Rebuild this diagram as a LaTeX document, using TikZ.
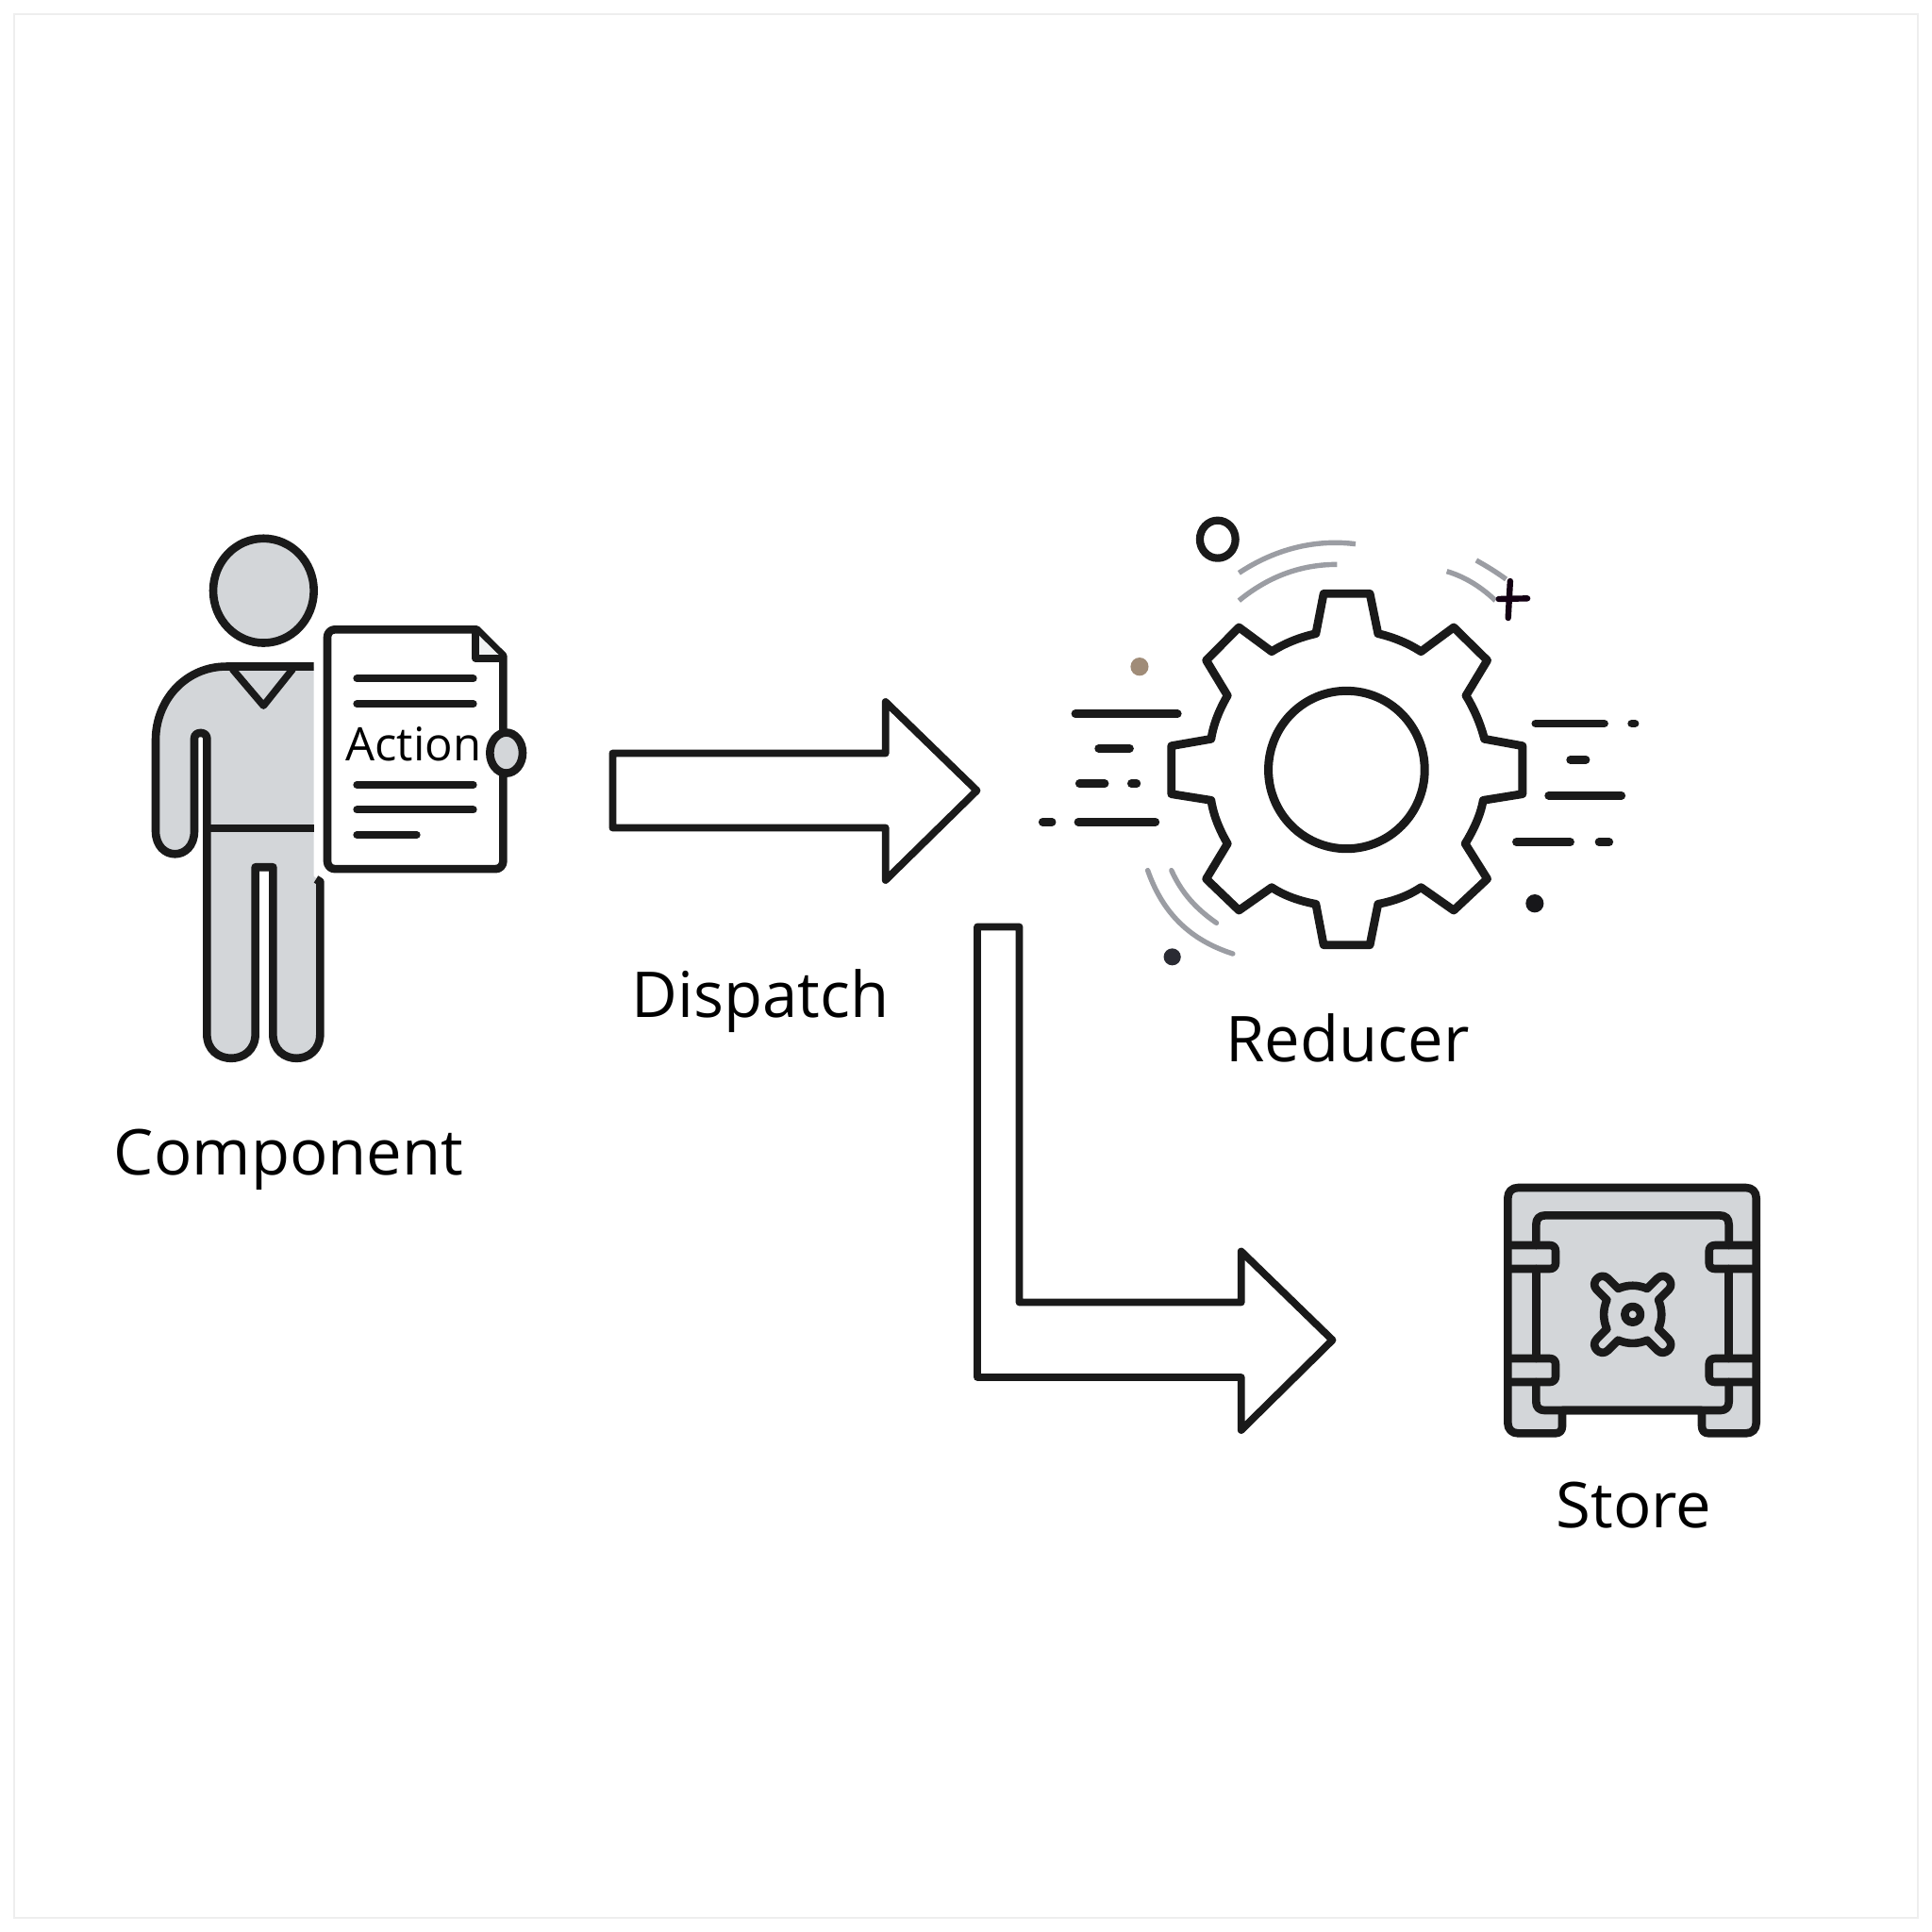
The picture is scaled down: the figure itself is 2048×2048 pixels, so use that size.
\documentclass[tikz,border=0pt]{standalone}
\usepackage{fontspec}
\usetikzlibrary{calc}
\setmainfont{Open Sans}
\definecolor{ink}{HTML}{1A1A1A}
\definecolor{bodygray}{HTML}{D3D6D9}
\definecolor{arcgray}{HTML}{9B9DA3}
\definecolor{framegray}{HTML}{EEEEEE}
\tikzset{
  inkline/.style={draw=ink,line width=4.3pt,line join=round,line cap=round},
  blockarrow/.style={draw=ink,line width=3.9pt,line join=round,fill=white},
  textrule/.style={draw=ink,line width=4pt,line cap=round},
  dashrule/.style={draw=ink,line width=4.3pt,line cap=round},
  swoosh/.style={draw=arcgray,line width=2.7pt},
  caption/.style={font=\fontsize{33.5}{40}\selectfont,text=black,inner sep=0pt,anchor=base},
  personzoom/.style={shift={(140,550)},x=0.16667pt,y=-0.19231pt},
  gearzoom/.style={shift={(1090,530)},x=0.21683pt,y=-0.16667pt},
  safezoom/.style={shift={(1580,1240)},x=0.16667pt,y=-0.16667pt},
}
\begin{document}
\begin{tikzpicture}[x=0.5pt,y=-0.5pt]
\useasboundingbox (0,0) rectangle (2048,2048);
\fill[white] (0,0) rectangle (2048,2048);
\draw[framegray,line width=1.3pt] (15,15) rectangle (2033,2033);

% ---------- Person with the Action document
\begin{scope}[personzoom]
  \fill[bodygray] (578,407) -- (300,407) .. controls (170,407) and (75,500) .. (75,610)
    -- (75,860) .. controls (75,945) and (198,945) .. (198,860) -- (198,605)
    .. controls (198,585) and (238,585) .. (238,605) -- (238,1420)
    .. controls (238,1509) and (392,1509) .. (392,1420) -- (392,960) -- (448,960) -- (448,1420)
    .. controls (448,1509) and (598,1509) .. (598,1420) -- (598,1000) -- (578,985) -- cycle;
  \draw[inkline,line cap=butt] (578,407) -- (300,407) .. controls (170,407) and (75,500) .. (75,610)
    -- (75,860) .. controls (75,945) and (198,945) .. (198,860) -- (198,605)
    .. controls (198,585) and (238,585) .. (238,605) -- (238,1420)
    .. controls (238,1509) and (392,1509) .. (392,1420) -- (392,960) -- (448,960) -- (448,1420)
    .. controls (448,1509) and (598,1509) .. (598,1420) -- (598,1000) -- (585,993);
  \draw[inkline,line cap=butt] (238,853) -- (578,853);
  \draw[inkline,line width=3.8pt] (320,415) -- (418,515) -- (510,415);
  \draw[inkline,fill=bodygray] (418,198) ellipse [x radius=160,y radius=144];
  % document
  \draw[inkline,fill=white,rounded corners=4pt] (700,305) -- (621,305) -- (621,965) -- (1180,965) -- (1180,600)
    [sharp corners] -- (1180,378) -- (1095,305) -- cycle;
  \draw[inkline,line width=3.6pt,fill=bodygray!35] (1092,312) -- (1092,385) -- (1178,385);
  \foreach \yy/\xe in {440/1085,510/1085,733/1085,802/1085,871/905}
    \draw[textrule] (715,\yy) -- (\xe,\yy);
  \node[font=\fontsize{24.5}{29}\selectfont,text=black,inner sep=0pt,anchor=base] (actiontext) at (895,667) {Action};
  \draw[inkline,fill=bodygray] (1190,645) ellipse [x radius=52,y radius=56];
\end{scope}

% ---------- Block arrows
\coordinate (dispatchTail) at (649.4,838);
\coordinate (dispatchHead) at (938.7,838);
\coordinate (dispatchTip) at (1035.5,838);
\draw[blockarrow] ($(dispatchTail)+(0,-39.5)$) -- ($(dispatchHead)+(0,-39.5)$) -- ($(dispatchHead)+(0,-94)$)
  -- (dispatchTip) -- ($(dispatchHead)+(0,95)$) -- ($(dispatchHead)+(0,39.5)$) -- ($(dispatchTail)+(0,39.5)$) -- cycle;

\coordinate (storeTail) at (1058,982.5);
\coordinate (storeBend) at (1058,1420.5);
\coordinate (storeHead) at (1315.7,1420.5);
\coordinate (storeTip) at (1412.5,1420.5);
\draw[blockarrow] ($(storeTail)+(-22,0)$) -- ($(storeTail)+(22.5,0)$) -- ($(storeBend)+(22.5,-40)$)
  -- ($(storeHead)+(0,-40)$) -- ($(storeHead)+(0,-94)$) -- (storeTip) -- ($(storeHead)+(0,95.5)$)
  -- ($(storeHead)+(0,39.5)$) -- ($(storeBend)+(-22,39.5)$) -- cycle;

% ---------- Gear
\begin{scope}[gearzoom]
  \draw[inkline,line width=4.4pt] (722,298) -- (835,298) -- (855,425)
    .. controls (895,437) and (930,457) .. (960,482) -- (1040,405) -- (1122,510) -- (1070,622)
    .. controls (1090,665) and (1105,710) .. (1115,760) -- (1208,782) -- (1208,935) -- (1112,955)
    .. controls (1105,1005) and (1088,1050) .. (1068,1093) -- (1122,1205) -- (1040,1305) -- (960,1232)
    .. controls (930,1258) and (895,1275) .. (855,1285) -- (835,1415) -- (722,1415) -- (703,1285)
    .. controls (662,1275) and (625,1258) .. (595,1232) -- (515,1305) -- (435,1205) -- (487,1093)
    .. controls (468,1050) and (453,1005) .. (447,955) -- (350,935) -- (350,782) -- (447,760)
    .. controls (453,710) and (468,665) .. (487,622) -- (435,510) -- (515,405) -- (595,482)
    .. controls (625,457) and (662,437) .. (703,425) -- cycle;
  \draw[inkline,line width=4.5pt] (778,858) ellipse [x radius=191,y radius=251];
  \draw[inkline,line width=4.1pt] (463,125) ellipse [x radius=43.5,y radius=60];
  \draw[swoosh] (515,232) .. controls (610,150) and (710,125) .. (800,140);
  \draw[swoosh] (515,320) .. controls (590,240) and (670,205) .. (755,205);
  \draw[swoosh] (1023,227) .. controls (1070,245) and (1110,280) .. (1142,320);
  \draw[swoosh] (1095,192) .. controls (1120,210) and (1145,230) .. (1168,252);
  \draw[swoosh,line cap=round] (292,1178) .. controls (325,1300) and (385,1395) .. (500,1443);
  \draw[swoosh,line cap=round] (350,1178) .. controls (375,1250) and (410,1300) .. (460,1345);
  \draw[draw=black!85!violet,line width=3.2pt,line cap=round] (1178,258) -- (1173,375);
  \draw[draw=black!85!violet,line width=3.2pt,line cap=round] (1150,315) -- (1220,313);
  \fill[fill={rgb,255:red,160;green,140;blue,120}] (272,530) ellipse [x radius=22,y radius=29];
  \fill[fill={rgb,255:red,42;green,43;blue,51}] (352,1453) ellipse [x radius=21,y radius=27];
  \fill[fill={rgb,255:red,23;green,23;blue,26}] (1238,1283) ellipse [x radius=22,y radius=29];
  \foreach \xa/\xb/\yy in {115/365/680,172/248/790,125/187/902,252/265/902,35/58/1024,122/311/1024,
      1240/1408/711,1475/1483/711,1325/1363/826,1272/1450/940,1193/1325/1088,1395/1420/1088}
    \draw[dashrule] (\xa,\yy) -- (\xb,\yy);
\end{scope}

% ---------- Safe
\begin{scope}[safezoom]
  \draw[inkline,fill=bodygray] (55,90) .. controls (55,70) and (68,57) .. (88,57) -- (812,57)
    .. controls (832,57) and (845,70) .. (845,90) -- (845,805) .. controls (845,825) and (832,838) .. (812,838)
    -- (695,838) .. controls (680,838) and (672,830) .. (672,815) -- (672,765) -- (228,765) -- (228,815)
    .. controls (228,830) and (220,838) .. (205,838) -- (88,838) .. controls (68,838) and (55,825) .. (55,805) -- cycle;
  \draw[inkline] (145,240) -- (145,175) .. controls (145,155) and (155,145) .. (175,145) -- (728,145)
    .. controls (748,145) and (758,155) .. (758,175) -- (758,240);
  \draw[inkline] (145,315) -- (145,600);
  \draw[inkline] (758,315) -- (758,600);
  \draw[inkline] (145,675) -- (145,738) .. controls (145,755) and (155,765) .. (172,765) -- (731,765)
    .. controls (748,765) and (758,755) .. (758,738) -- (758,675);
  \foreach \ya/\yb in {240/315,600/675} {
    \draw[inkline] (55,\ya) -- (188,\ya) .. controls (200,\ya) and (207,\ya+7) .. (207,\ya+19) -- (207,\yb-19)
      .. controls (207,\yb-7) and (200,\yb) .. (188,\yb) -- (55,\yb);
    \draw[inkline] (845,\ya) -- (714,\ya) .. controls (702,\ya) and (695,\ya+7) .. (695,\ya+19) -- (695,\yb-19)
      .. controls (695,\yb-7) and (702,\yb) .. (714,\yb) -- (845,\yb);
  }
  \begin{scope}[shift={(452,460)}]
    \draw[inkline] (46,-82) -- (78,-114) .. controls (101.6,-137.6) and (137.6,-101.6) .. (114,-78)
      -- (82,-46) .. controls (95,-15) and (95,15) .. (82,46)
      -- (114,78) .. controls (137.6,101.6) and (101.6,137.6) .. (78,114)
      -- (46,82) .. controls (15,95) and (-15,95) .. (-46,82)
      -- (-78,114) .. controls (-101.6,137.6) and (-137.6,101.6) .. (-114,78)
      -- (-82,46) .. controls (-95,15) and (-95,-15) .. (-82,-46)
      -- (-114,-78) .. controls (-137.6,-101.6) and (-101.6,-137.6) .. (-78,-114)
      -- (-46,-82) .. controls (-15,-95) and (15,-95) .. (46,-82) -- cycle;
    \draw[inkline] (0,0) circle [radius=25];
  \end{scope}
\end{scope}

% ---------- Captions
\node[caption] (componentlabel) at (306,1245) {Component};
\node[caption] (dispatchlabel) at (806,1078) {Dispatch};
\node[caption] (reducerlabel) at (1428.5,1125) {Reducer};
\node[caption] (storelabel) at (1732,1619) {Store};
\end{tikzpicture}
\end{document}
